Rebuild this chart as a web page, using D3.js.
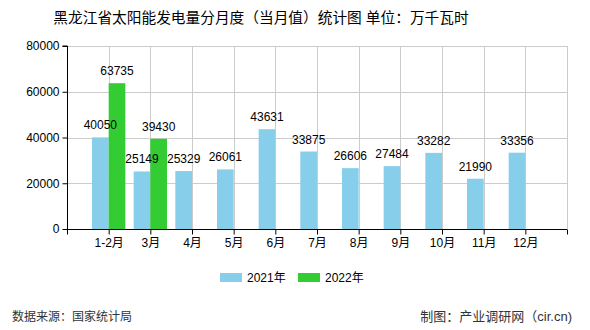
<!DOCTYPE html>
<html><head><meta charset="utf-8">
<script src="https://cdn.jsdelivr.net/npm/d3@7"></script>
<style>body{margin:0;background:#fff}svg{display:block}text{font-family:"Liberation Sans","Noto Sans CJK SC",sans-serif}</style>
</head><body>
<svg id="c" width="590" height="330"></svg>
<script>
const categories = ["1-2月","3月","4月","5月","6月","7月","8月","9月","10月","11月","12月"];
const values2021 = [40050,25149,25329,26061,43631,33875,26606,27484,33282,21990,33356];
const values2022 = [63735,39430,null,null,null,null,null,null,null,null,null];
const seriesNames = ["2021年","2022年"];
const seriesColors = ["#87CEEB","#33CC33"];
const yTicks = [0,20000,40000,60000,80000];
const title = "黑龙江省太阳能发电量分月度（当月值）统计图 单位：万千瓦时";
const sourceText = "数据来源：国家统计局";
const creditText = "制图：产业调研网（cir.cn)";

const svg = d3.select("#c");
const L=67, R=567, T=46, B=229;
const x = d3.scalePoint().domain(["_s", ...categories, "_e"]).range([L, R]);
const y = d3.scaleLinear().domain([0,80000]).range([B, T]);
const bw = x.step()*0.4;

svg.append("text").attr("x",261).attr("y",23).attr("text-anchor","middle")
  .attr("font-size",14.7).attr("fill","#000").text(title);

// grid
const g = svg.append("g");
g.selectAll(".hg").data(yTicks.slice(1)).join("line")
  .attr("x1",L).attr("x2",R).attr("y1",d=>Math.round(y(d))+0.5).attr("y2",d=>Math.round(y(d))+0.5)
  .attr("stroke","#ccc");
g.selectAll(".vg").data([...categories,"_e"]).join("line")
  .attr("x1",d=>Math.round(x(d))+0.5).attr("x2",d=>Math.round(x(d))+0.5).attr("y1",T).attr("y2",B)
  .attr("stroke","#ccc");

// bars
const series = [values2021, values2022];
const barG = svg.append("g"), labG = svg.append("g");
series.forEach((vals,si)=>{
  const data = categories.map((c,i)=>({c,v:vals[i]})).filter(d=>d.v!=null);
  barG.append("g").selectAll("rect").data(data).join("rect")
    .attr("x",d=>x(d.c)+(si===0?-bw:0)).attr("width",bw)
    .attr("y",d=>y(d.v)).attr("height",d=>B-y(d.v))
    .attr("fill",seriesColors[si]);
  labG.append("g").selectAll("text").data(data).join("text")
    .attr("x",d=>x(d.c)+(si===0?-bw/2:bw/2)).attr("y",d=>y(d.v)-8)
    .attr("text-anchor","middle").attr("font-size",12).attr("fill","#000")
    .text(d=>d.v);
});

// axes
const yAxis = d3.axisLeft(y).tickValues(yTicks).tickSize(5).tickPadding(3).tickFormat(d=>d);
const ya = svg.append("g").attr("transform",`translate(${L+0.5},0)`).call(yAxis);
ya.select(".domain").attr("d",`M-5,${T}H0V${B}`).attr("stroke","#000");
ya.selectAll("text").attr("font-size",12).attr("fill","#000").attr("font-family","Liberation Sans, sans-serif");
ya.selectAll(".tick line").attr("stroke","#000");

const xAxis = d3.axisBottom(x).tickValues(["_s",...categories,"_e"]).tickSize(5).tickPadding(4)
  .tickFormat(d=>d.startsWith("_")?"":d);
const xa = svg.append("g").attr("transform",`translate(0,${B+0.5})`).call(xAxis);
xa.select(".domain").attr("d",`M${L},0H${R}`).attr("stroke","#000");
xa.selectAll(".tick line").attr("stroke","#000");
xa.selectAll("text").attr("font-size",12).attr("fill","#000");

// legend
const lg = svg.append("g");
const lx = [220, 298];
seriesNames.forEach((n,i)=>{
  lg.append("rect").attr("x",lx[i]).attr("y",273).attr("width",22).attr("height",9).attr("fill",seriesColors[i]);
  lg.append("text").attr("x",lx[i]+27).attr("y",282).attr("font-size",12).attr("fill","#000").text(n);
});

// footer
svg.append("text").attr("x",12).attr("y",321).attr("font-size",12).attr("fill","#333").text(sourceText);
svg.append("text").attr("x",572).attr("y",321).attr("text-anchor","end").attr("font-size",13).attr("fill","#333").text(creditText);
</script>
</body></html>
